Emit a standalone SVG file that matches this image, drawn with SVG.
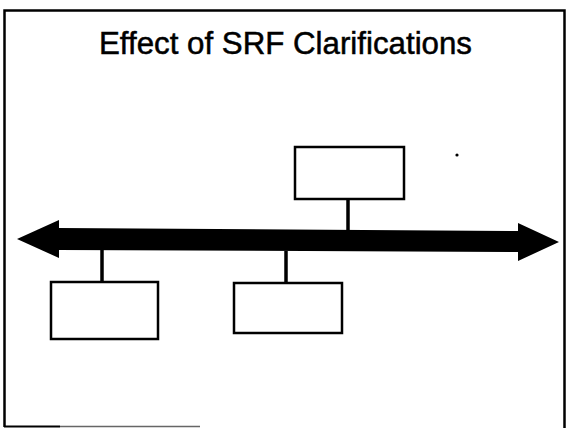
<svg xmlns="http://www.w3.org/2000/svg" width="567" height="428" viewBox="0 0 567 428">
<style>
.frame{fill:none;stroke:#000;stroke-width:2.5}
.box{fill:#fff;stroke:#000;stroke-width:2.5}
.conn{stroke:#000;stroke-width:3.5;fill:none}
.title{font-family:"Liberation Sans",Arial,sans-serif;font-size:31px;fill:#000;stroke:#000;stroke-width:0.5}
</style>
<rect width="567" height="428" fill="#fff"/>
<g id="frame">
<polyline class="frame" points="4.5,427 4.5,10.5 564.5,10.5 564.5,428"/>
<line x1="4" y1="426.5" x2="60" y2="426.5" stroke="#000" stroke-width="2"/>
<line x1="60" y1="426.5" x2="200" y2="426.5" stroke="#666" stroke-width="1.5"/>
</g>
<g id="title">
<text class="title" x="99" y="54" textLength="373" lengthAdjust="spacingAndGlyphs">Effect of SRF Clarifications</text>
</g>
<g id="connectors">
<polygon id="timeline" points="17,239 59,220 59,228 518,231 518,223 559,242 518,261 518,252 59,250 59,258" fill="#000"/>
<line class="conn" x1="348" y1="199" x2="348" y2="231"/>
<line class="conn" x1="102" y1="250" x2="102" y2="282"/>
<line class="conn" x1="286" y1="251" x2="286" y2="283"/>
</g>
<g id="node-top">
<rect class="box" x="295" y="147" width="109" height="52"/>
</g>
<g id="node-bottom-left">
<rect class="box" x="51" y="282" width="107" height="57"/>
</g>
<g id="node-bottom-mid">
<rect class="box" x="234" y="283" width="108" height="50"/>
</g>
<circle cx="457" cy="155" r="1.6" fill="#000"/>
</svg>
